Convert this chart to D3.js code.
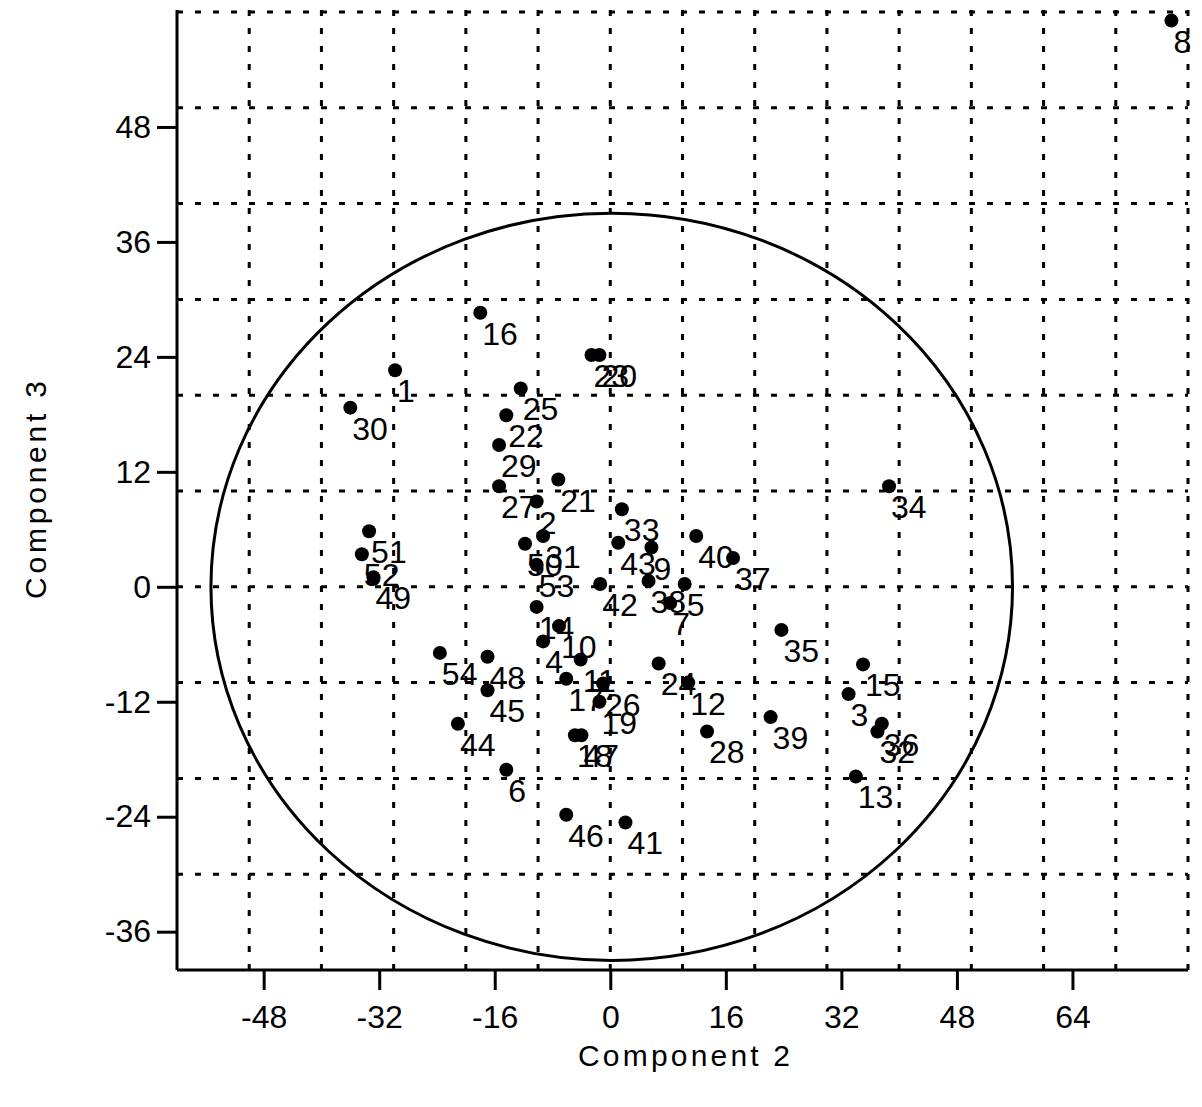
<!DOCTYPE html>
<html>
<head>
<meta charset="utf-8">
<script src="https://cdn.jsdelivr.net/npm/d3@7"></script>
<style>
  html, body { margin: 0; padding: 0; background: #fff; }
  svg { display: block; }
  text { font-family: "Liberation Sans", Arial, sans-serif; fill: #000; }
</style>
</head>
<body>
<svg id="chart" width="1202" height="1107"></svg>
<script>
// ---- data ----
const ids = [1,2,3,4,5,6,7,8,9,10,11,12,13,14,15,16,17,18,19,20,21,22,23,24,25,26,27,
             28,29,30,31,32,33,34,35,36,37,38,39,40,41,42,43,44,45,46,47,48,49,50,51,52,53,54];
const comp2 = [-29.8,-10.2,33.0,-9.3,10.3,-14.4,8.3,77.7,5.7,-7.1,-4.1,10.8,34.0,-10.2,35.0,-18.0,-6.1,
               -4.9,-1.5,-1.5,-7.2,-14.4,-2.6,6.7,-12.4,-1.0,-15.4,13.4,-15.4,-36.0,-9.3,37.0,1.6,38.6,
               23.7,37.6,17.0,5.3,22.2,11.9,2.1,-1.4,1.1,-21.1,-17.0,-6.1,-4.0,-17.0,-32.8,-11.8,-33.4,
               -34.4,-10.2,-23.6];
const comp3 = [22.6,8.9,-11.2,-5.7,0.3,-19.1,-1.7,59.1,4.1,-4.1,-7.6,-10.0,-19.8,-2.1,-8.1,28.6,-9.6,
               -15.5,-12.0,24.2,11.2,17.9,24.2,-8.0,20.7,-10.1,10.5,-15.1,14.8,18.7,5.3,-15.1,8.1,10.5,
               -4.5,-14.3,3.0,0.6,-13.6,5.3,-24.6,0.3,4.6,-14.3,-10.8,-23.8,-15.5,-7.3,1.0,4.5,5.8,
               3.4,2.3,-6.9];
const xTicks = [-48,-32,-16,0,16,32,48,64];
const yTicks = [-36,-24,-12,0,12,24,36,48];
const xGrid = [-50,-40,-30,-20,-10,0,10,20,30,40,50,60,70,80];
const yGrid = [-30,-20,-10,0,10,20,30,40,50,60];
const xDomain = [-60, 80];
const yDomain = [-40, 60];
const ellipseCenter = [0.2, 0];
const ellipseRadii = [55.5, 39];
const xTitle = "Component 2";
const yTitle = "Component 3";

(function () {
// ---- layout ----
const svg = d3.select("#chart");
const mLeft = 177, mRight = 1188, mTop = 12, mBottom = 970;
const x = d3.scaleLinear().domain(xDomain).range([mLeft, mRight]);
const y = d3.scaleLinear().domain(yDomain).range([mBottom, mTop]);
const FONT = '"Liberation Sans", Arial, sans-serif';

// grid
const grid = svg.append("g").attr("stroke", "#000").attr("stroke-width", 3)
  .attr("stroke-dasharray", "6,12").attr("fill", "none");
grid.selectAll("line.h").data(yGrid).join("line").attr("class", "h")
  .attr("x1", mLeft).attr("x2", mRight).attr("y1", d => y(d)).attr("y2", d => y(d));
grid.selectAll("line.v").data(xGrid).join("line").attr("class", "v")
  .attr("x1", d => x(d)).attr("x2", d => x(d)).attr("y1", mTop - 2).attr("y2", mBottom + 4);

// ellipse
svg.append("ellipse")
  .attr("cx", x(ellipseCenter[0])).attr("cy", y(ellipseCenter[1]))
  .attr("rx", x(ellipseCenter[0] + ellipseRadii[0]) - x(ellipseCenter[0]))
  .attr("ry", y(ellipseCenter[1]) - y(ellipseCenter[1] + ellipseRadii[1]))
  .attr("fill", "none").attr("stroke", "#000").attr("stroke-width", 3);

// axes
const xAxis = d3.axisBottom(x).tickValues(xTicks).tickSize(20).tickPadding(15).tickFormat(d3.format("d"));
const yAxis = d3.axisLeft(y).tickValues(yTicks).tickSize(20).tickPadding(6).tickFormat(d3.format("d"));
const gx = svg.append("g").attr("transform", `translate(0,${mBottom})`).call(xAxis);
const gy = svg.append("g").attr("transform", `translate(${mLeft},0)`).call(yAxis);
[gx, gy].forEach(g => {
  g.select(".domain").attr("stroke", "#000").attr("stroke-width", 3);
  g.selectAll(".tick line").attr("stroke", "#000").attr("stroke-width", 3);
  g.selectAll(".tick text").attr("font-size", 32).attr("font-family", FONT)
    .attr("fill", "#000").text(d => d < 0 ? "-" + Math.abs(d) : String(d));
});
gx.select(".domain").attr("d", `M${mLeft},0H${mRight}`);
gy.select(".domain").attr("d", `M0,${mTop - 2}V${mBottom}`);

// points
const pts = ids.map((id, i) => ({id, cx: comp2[i], cy: comp3[i]}));
svg.append("g").selectAll("circle").data(pts).join("circle")
  .attr("cx", d => x(d.cx)).attr("cy", d => y(d.cy)).attr("r", 7).attr("fill", "#000");
svg.append("g").selectAll("text").data(pts).join("text")
  .attr("x", d => x(d.cx) + 2).attr("y", d => y(d.cy) + 32)
  .attr("font-size", 32).text(d => d.id);

// titles
svg.append("text").attr("x", 684).attr("y", 1066).attr("text-anchor", "middle")
  .attr("font-size", 30).attr("textLength", 212).attr("lengthAdjust", "spacing").text(xTitle);
svg.append("text").attr("transform", "translate(46,490) rotate(-90)").attr("text-anchor", "middle")
  .attr("font-size", 30).attr("textLength", 218).attr("lengthAdjust", "spacing").text(yTitle);
})();
</script>
</body>
</html>
